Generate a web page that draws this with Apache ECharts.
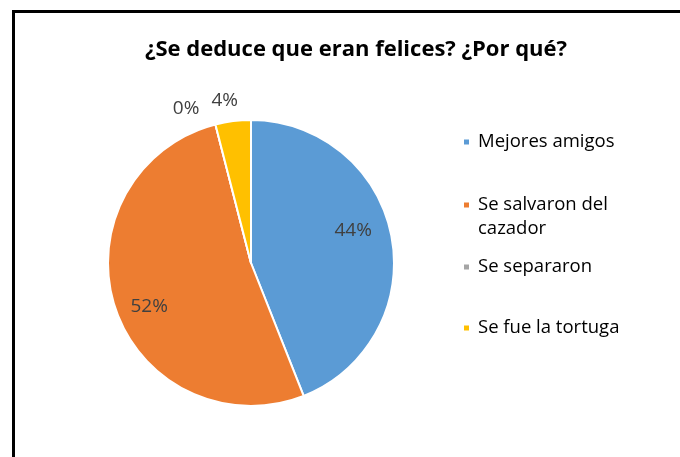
<!DOCTYPE html>
<html>
<head>
<meta charset="utf-8">
<script src="https://cdn.jsdelivr.net/npm/echarts@6/dist/echarts.min.js"></script>
<style>
  html, body { margin: 0; padding: 0; background: #fff; }
  #chart { width: 680px; height: 457px; }
</style>
</head>
<body>
<div id="chart"></div>
<script>
// respuestas
var categories = ['Mejores amigos', 'Se salvaron del cazador', 'Se separaron', 'Se fue la tortuga'];
var legendLabels = ['Mejores amigos', '\nSe salvaron del\ncazador', 'Se separaron', 'Se fue la tortuga'];
var counts = [11, 13, 0, 1];
var colors = ['#5B9BD5', '#ED7D31', '#A5A5A5', '#FFC000'];

var font = '"Open Sans", sans-serif';

// etiquetas: dentro para las grandes, fuera para las chicas
var labelCfg = [
    { position: 'inside', offset: [29, -18] },
    { position: 'inside', offset: [-31, 21] },
    { position: 'outside', offset: [-11, -16] },
    { position: 'outside', offset: [10, -21] }
];

var pieData = categories.map(function(name, i) {
    return {
        name: name,
        value: counts[i],
        itemStyle: { color: colors[i] },
        label: labelCfg[i]
    };
});

var legendTops = [130, 169, 255, 316];
var legends = categories.map(function(name, i) {
    return {
        orient: 'vertical',
        left: 462,
        top: legendTops[i],
        padding: 0,
        itemWidth: 7,
        itemHeight: 7,
        icon: 'rect',
        selectedMode: false,
        data: [name],
        formatter: function() { return legendLabels[i]; },
        textStyle: {
            fontFamily: font,
            fontSize: 18.5,
            lineHeight: 24,
            color: '#000',
            padding: [0, 0, 0, 3]
        }
    };
});

var myChart = echarts.init(document.getElementById('chart'));
var total = counts.reduce(function(a, b) { return a + b; }, 0);
var option = {
    animation: false,
    title: {
        text: '¿Se deduce que eran felices? ¿Por qué?',
        left: 351,
        textAlign: 'center',
        top: 34,
        textStyle: {
            fontFamily: font,
            fontSize: 22,
            fontWeight: 'bold',
            color: '#000'
        }
    },
    legend: legends,
    graphic: [{
        type: 'rect',
        shape: { x: 13.5, y: 11.5, width: 700, height: 500 },
        style: { fill: 'none', stroke: '#000', lineWidth: 3 },
        silent: true
    }],
    series: [{
        name: 'respuestas',
        type: 'pie',
        center: [251, 263],
        radius: [0, 143],
        startAngle: 90,
        clockwise: true,
        avoidLabelOverlap: false,
        stillShowZeroSum: true,
        minShowLabelAngle: 0,
        itemStyle: { borderColor: '#fff', borderWidth: 2 },
        label: {
            show: true,
            formatter: function(p) {
                return Math.round(p.value / total * 100) + '%';
            },
            fontFamily: font,
            fontSize: 19,
            color: '#404040'
        },
        labelLine: { show: false, length: 0, length2: 0 },
        emphasis: { disabled: true },
        data: pieData
    }]
};
myChart.setOption(option);
</script>
</body>
</html>
